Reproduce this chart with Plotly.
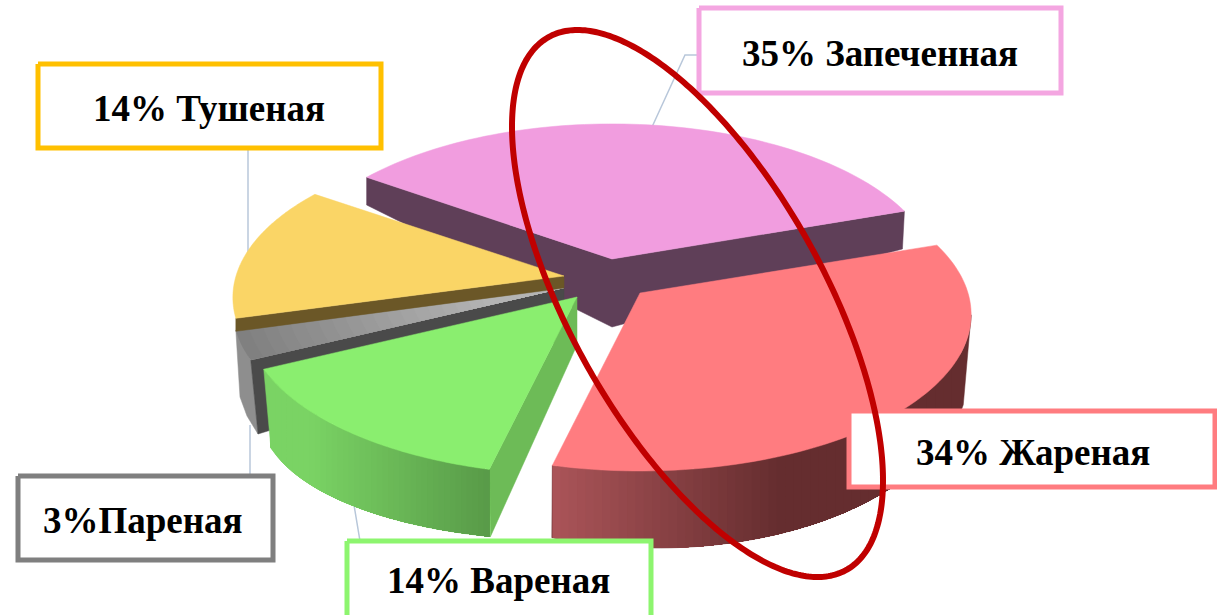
import numpy as np
import plotly.graph_objects as go

# ---- data ----
categories = ["Запеченная", "Жареная", "Вареная", "Пареная", "Тушеная"]
values = [35, 34, 14, 3, 14]
label_texts = ["35% Запеченная", "34% Жареная", "14% Вареная", "3%Пареная", "14% Тушеная"]

# ---- style ----
TOP = dict(zip(categories, ["#F19DDF", "#FF7C80", "#8AEE6F", "#A8A8A8", "#FAD566"]))
BOX = dict(zip(categories, ["#F4A6E1", "#FF7C80", "#8DF56F", "#7F7F7F", "#FFC000"]))
APEX = dict(zip(categories, [(612, 259), (640, 293), (577, 297), (564, 288), (564, 276)]))
SCALE = dict(zip(categories, [0.985, 1.0, 1.0, 1.0, 1.0]))
BOXES = dict(zip(categories, [(699, 8, 1061, 93), (849, 411, 1215, 487), (347, 541, 651, 618),
                              (18, 476, 273, 560), (38, 64, 381, 148)]))
TEXT_AT = dict(zip(categories, [(880, 53), (1033, 452), (498, 580), (143, 520), (209, 108)]))
START = -55.0
A, B, P = 328.0, 153.6, 0.137

# angular extents come from the values
sweeps = np.array(values) / sum(values) * 360
edges = START + np.concatenate([[0], np.cumsum(sweeps)])
SPAN = {c: (edges[i], edges[i + 1]) for i, c in enumerate(categories)}


def top_point(cat, theta):
    th = np.radians(theta)
    s, c = np.sin(th), -np.cos(th)
    w = 1 - P * c
    ax, ay = APEX[cat]
    return ax + SCALE[cat] * A * s / w, ay + B * c / w


def top_arc(cat, t0, t1, n=80):
    return top_point(cat, np.linspace(t0, t1, n))


def bottom_arc(xc, yc, a, b, p0, p1, n):
    ph = np.radians(np.linspace(p0, p1, n))
    return xc + a * np.sin(ph), yc - b * np.cos(ph)


def mix(c0, c1, f):
    f = float(np.clip(f, 0, 1))
    return "rgb(%d,%d,%d)" % tuple(round(a + (b - a) * f) for a, b in zip(c0, c1))


fig = go.Figure()


def poly(xs, ys, color, width=0.5):
    xs, ys = list(xs), list(ys)
    fig.add_trace(go.Scatter(x=xs + xs[:1], y=ys + ys[:1], mode="lines", fill="toself", fillcolor=color,
                             line=dict(color=color, width=width, simplify=False), hoverinfo="skip",
                             showlegend=False))


def line(xs, ys, color="#B8C7DA", width=1.5):
    fig.add_trace(go.Scatter(x=xs, y=ys, mode="lines", line=dict(color=color, width=width),
                             hoverinfo="skip", showlegend=False))


def wedge_top(cat):
    t0, t1 = SPAN[cat]
    x, y = top_arc(cat, t0, t1)
    ax, ay = APEX[cat]
    poly([ax, *x], [ay, *y], TOP[cat])


def band(tx, ty, bx, by, x0, x1, base, col_fn, n=40):
    """Rim of a slice: the true outline in a base colour, then vertical gradient strips over it."""
    poly(list(tx) + list(bx[::-1]), list(ty) + list(by[::-1]), base)
    ot, ob = np.argsort(tx), np.argsort(bx)
    grid = np.linspace(x0, x1, n)
    yt = np.interp(grid, tx[ot], ty[ot])
    yb = np.interp(grid, bx[ob], by[ob])
    for i in range(n - 1):
        xs = list(grid[i:]) + list(grid[i:][::-1])
        ys = list(yt[i:]) + list(yb[i:][::-1])
        poly(xs, ys, col_fn((grid[i] + grid[i + 1]) / 2), width=0)


# leader lines, behind the pie
line([697, 685, 652], [55, 55, 127])
line([248, 248], [150, 252])
line([250, 250], [425, 475])
line([354, 360], [505, 541])

# --- baked pink
c = categories[0]
PINK_SIDE = "#5F3F58"
lx, ly = top_point(c, SPAN[c][0])
rx, ry = top_point(c, SPAN[c][1])
ax, ay = APEX[c]
poly([lx, ax, rx, rx - 2, ax, lx], [ly, ay, ry, 249, 327, 205], PINK_SIDE)
wedge_top(c)

# --- grey
c = categories[3]
ax, ay = APEX[c]
gx0, gy0 = top_point(c, SPAN[c][0])
gx1, gy1 = top_point(c, SPAN[c][1])
poly([gx1, gx0, 258, 247, 240], [gy1, gy0, 434, 416, 397], "#8E8E8E")
poly([gx0, ax, ax, 258], [gy0, ay, 340, 434], "#4A4A4A")
arcx, arcy = top_arc(c, *SPAN[c], n=12)
rows = 24
for i in range(rows, 0, -1):
    f = i / rows
    poly([ax, *(ax + (arcx - ax) * f)], [ay, *(ay + (arcy - ay) * f)],
         mix((180, 180, 180), (128, 128, 128), (f - 0.25) / 0.75), width=0)

# --- yellow
c = categories[4]
ax, ay = APEX[c]
yx, yy = top_point(c, SPAN[c][0])
poly([yx, ax, ax, yx], [yy, ay, ay + 12, yy + 13], "#6B5727")
wedge_top(c)

# --- green
c = categories[2]
ax, ay = APEX[c]
t0, t1 = SPAN[c]
tx, ty = top_arc(c, t0, t1, 48)
bx, by = bottom_arc(560, 418, 298, 122, 193.5, 256, 48)
poly([ax, ax, bx[0], tx[0]], [ay, 345, by[0], ty[0]], "#6DBB57")
band(tx, ty, bx, by, 270, float(min(tx[0], bx[0])), "#7AD364",
     lambda m: mix((122, 211, 100), (88, 154, 72), (m - 310) / 180))
wedge_top(c)

# --- red
c = categories[1]
t0, t1 = SPAN[c]
tx, ty = top_arc(c, t1, 98, 64)
bx, by = bottom_arc(657, 371, 312, 177, 199.7, 101, 64)
band(tx, ty, bx, by, float(max(tx[0], bx[0])), 960, "#652D2F",
     lambda m: mix((170, 84, 88), (101, 45, 47), (m - 555) / 225), n=50)
wedge_top(c)

# --- label boxes
for c in categories:
    x0, y0, x1, y1 = BOXES[c]
    fig.add_trace(go.Scatter(x=[x0, x1, x1, x0, x0], y=[y0, y0, y1, y1, y0], mode="lines", fill="toself",
                             fillcolor="white", line=dict(color=BOX[c], width=5), hoverinfo="skip",
                             showlegend=False))

# --- highlight ring
t = np.linspace(0, 2 * np.pi, 360)
fig.add_trace(go.Scatter(x=697.5 + 185.5 * np.cos(t), y=303.5 + 176.9 * np.cos(t) + 208.6 * np.sin(t),
                         mode="lines", line=dict(color="#C00000", width=6, simplify=False), hoverinfo="skip",
                         showlegend=False))

for c, text in zip(categories, label_texts):
    tx_, ty_ = TEXT_AT[c]
    fig.add_annotation(x=tx_, y=ty_, text="<b>%s</b>" % text, showarrow=False, xanchor="center", yanchor="middle",
                       font=dict(family="Liberation Serif", size=37, color="black"))

fig.update_layout(width=1217, height=615, margin=dict(l=0, r=0, t=0, b=0), paper_bgcolor="white",
                  plot_bgcolor="white", showlegend=False,
                  xaxis=dict(range=[0, 1217], visible=False, fixedrange=True),
                  yaxis=dict(range=[615, 0], visible=False, fixedrange=True))
fig.write_html("out.html", post_script="document.body.style.margin='0';document.body.style.overflow='hidden';",
               config={"displayModeBar": False})
